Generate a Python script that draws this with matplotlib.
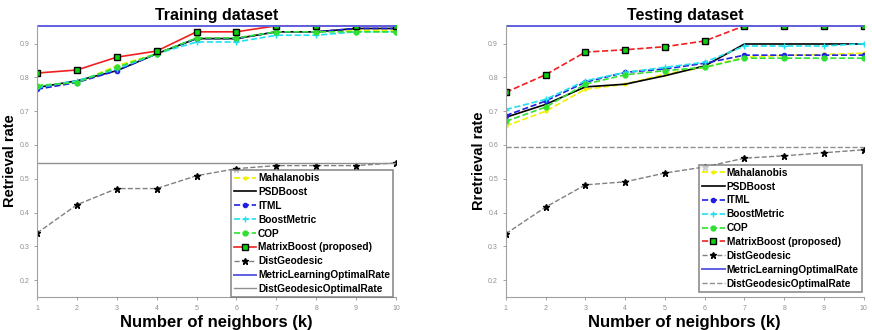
import matplotlib
matplotlib.use("Agg")
import matplotlib.pyplot as plt

plt.rcParams["font.family"] = ["Liberation Sans", "DejaVu Sans"]

# neighbors k
k = list(range(1, 11))

# Training dataset
train_maha = [0.775, 0.785, 0.835, 0.870, 0.915, 0.915, 0.935, 0.935, 0.940, 0.940]
train_psd = [0.770, 0.790, 0.820, 0.870, 0.915, 0.915, 0.935, 0.935, 0.945, 0.945]
train_itml = [0.765, 0.785, 0.820, 0.870, 0.915, 0.915, 0.935, 0.935, 0.945, 0.945]
train_boost = [0.770, 0.790, 0.825, 0.870, 0.905, 0.905, 0.925, 0.925, 0.935, 0.935]
train_cop = [0.776, 0.785, 0.830, 0.870, 0.917, 0.917, 0.935, 0.935, 0.935, 0.935]
train_matrix = [0.813, 0.822, 0.860, 0.878, 0.935, 0.935, 0.953, 0.953, 0.953, 0.953]
train_geo = [0.339, 0.423, 0.471, 0.471, 0.509, 0.530, 0.539, 0.539, 0.539, 0.547]
train_ml_opt = 0.953
train_geo_opt = 0.548

# Testing dataset
test_maha = [0.656, 0.700, 0.765, 0.780, 0.810, 0.830, 0.860, 0.865, 0.868, 0.872]
test_psd = [0.682, 0.720, 0.772, 0.780, 0.805, 0.834, 0.899, 0.899, 0.899, 0.899]
test_itml = [0.687, 0.730, 0.786, 0.815, 0.825, 0.842, 0.866, 0.866, 0.866, 0.866]
test_boost = [0.705, 0.735, 0.790, 0.815, 0.830, 0.845, 0.893, 0.893, 0.893, 0.900]
test_cop = [0.670, 0.712, 0.780, 0.808, 0.820, 0.830, 0.857, 0.857, 0.857, 0.857]
test_matrix = [0.756, 0.808, 0.875, 0.882, 0.891, 0.908, 0.953, 0.953, 0.953, 0.953]
test_geo = [0.337, 0.416, 0.482, 0.491, 0.517, 0.535, 0.561, 0.568, 0.577, 0.586]
test_ml_opt = 0.953
test_geo_opt = 0.595

labels = ["Mahalanobis", "PSDBoost", "ITML", "BoostMetric", "COP",
          "MatrixBoost (proposed)", "DistGeodesic",
          "MetricLearningOptimalRate", "DistGeodesicOptimalRate"]


def draw(ax, data, matrix_style, geo_opt_style, title, ylabel, leg_anchor):
    maha, psd, itml, boost, cop, matrix, geo, ml_opt, geo_opt = data
    ax.plot(k, maha, "--", color="#f0f000", marker=".", ms=4, lw=1.2, label=labels[0])
    ax.plot(k, psd, "-", color="black", lw=1.2, label=labels[1])
    ax.plot(k, itml, "--", color="#2020e0", marker="o", ms=3, lw=1.2, label=labels[2])
    ax.plot(k, boost, "--", color="#20e0f0", marker="+", ms=4, lw=1.2, label=labels[3])
    ax.plot(k, cop, "--", color="#30e030", marker="o", ms=3.5, lw=1.2, label=labels[4])
    ax.plot(k, matrix, matrix_style, color="#f02020", marker="s", ms=5, mfc="#10d010",
            mec="black", mew=1, lw=1.2, label=labels[5])
    ax.plot(k, geo, "--", color="#808080", marker="*", ms=5, mfc="black", mec="black",
            lw=1.0, label=labels[6])
    ax.axhline(ml_opt, color="#6060e0", lw=1.4, label=labels[7])
    ax.axhline(geo_opt, ls=geo_opt_style, color="#909090", lw=1.0, label=labels[8])

    ax.set_xlim(1, 10)
    ax.set_ylim(0.15, 0.955)
    ax.set_xticks(k)
    ax.set_yticks([0.2, 0.3, 0.4, 0.5, 0.6, 0.7, 0.8, 0.9])
    ax.tick_params(labelsize=5, colors="#909090", length=2, width=0.6)
    for s in ["top", "right"]:
        ax.spines[s].set_visible(False)
    for s in ["left", "bottom"]:
        ax.spines[s].set_color("#a0a0a0")
    ax.set_title(title, fontsize=11.5, fontweight="bold", pad=4)
    ax.set_xlabel("Number of neighbors (k)", fontsize=12, fontweight="bold")
    ax.set_ylabel(ylabel, fontsize=10.5, fontweight="bold")
    ax.xaxis.set_label_coords(0.5, -0.065)
    ax.yaxis.set_label_coords(-0.056, 0.5)
    leg = ax.legend(loc="lower right", bbox_to_anchor=leg_anchor,
                    prop={"weight": "bold", "size": 7.3},
                    frameon=True, fancybox=False, borderpad=0.3, labelspacing=0.38,
                    handlelength=2.2, handletextpad=0.2, borderaxespad=0.0)
    leg.get_frame().set_edgecolor("#707070")
    leg.get_frame().set_linewidth(1.2)


fig = plt.figure(figsize=(8.72, 3.30), dpi=100)
ax1 = fig.add_axes([0.0424, 0.10, 0.4117, 0.824])
ax2 = fig.add_axes([0.580, 0.10, 0.4106, 0.824])

draw(ax1, (train_maha, train_psd, train_itml, train_boost, train_cop, train_matrix,
           train_geo, train_ml_opt, train_geo_opt), "-", "-",
     "Training dataset", "Retrieval rate", (0.992, 0.0))
draw(ax2, (test_maha, test_psd, test_itml, test_boost, test_cop, test_matrix,
           test_geo, test_ml_opt, test_geo_opt), "--", "--",
     "Testing dataset", "Rretrieval rate", (0.994, 0.02))

fig.savefig("out.png", dpi=100)
